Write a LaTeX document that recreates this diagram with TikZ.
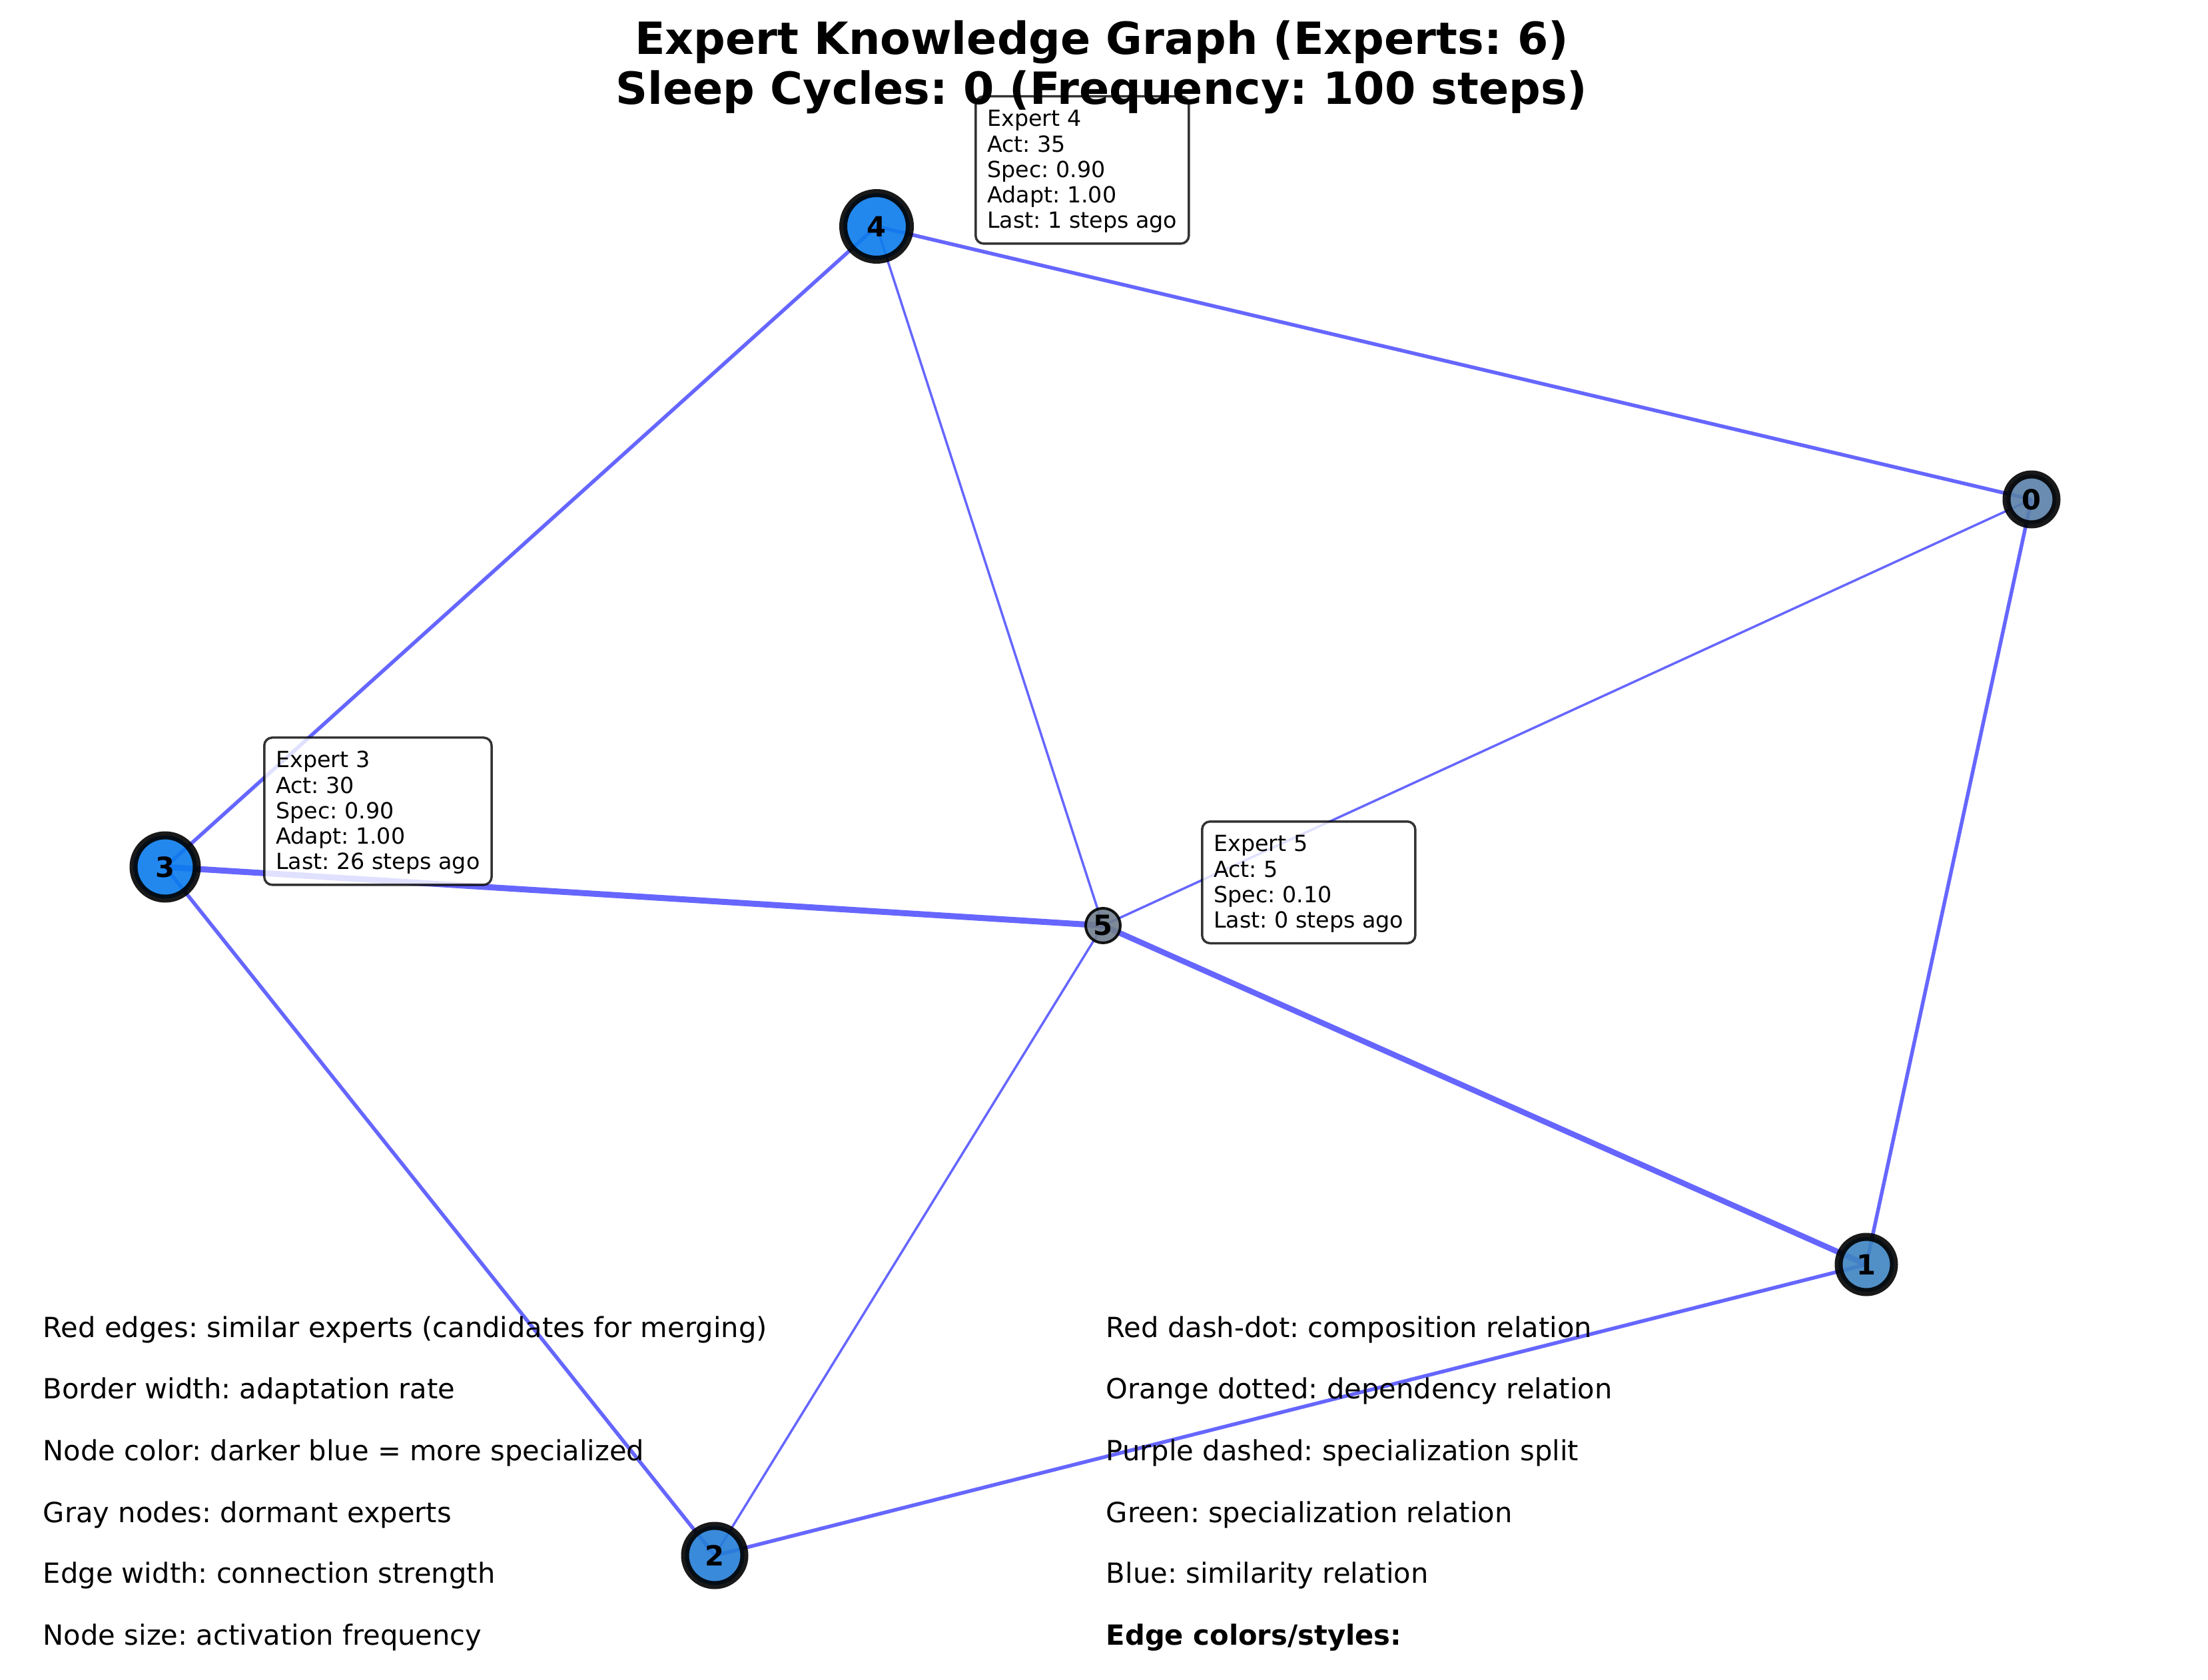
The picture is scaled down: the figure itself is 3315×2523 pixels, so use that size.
\documentclass[tikz,border=0pt]{standalone}
\usepackage{fontspec}
\setmainfont{DejaVu Sans}
\frenchspacing
\newlength\pxu
\setlength\pxu{0.24pt}
\definecolor{czero}{RGB}{89,128,168}
\definecolor{cone}{RGB}{63,132,194}
\definecolor{ctwo}{RGB}{36,126,214}
\definecolor{cthree}{RGB}{11,124,237}
\definecolor{cfour}{RGB}{12,124,236}
\definecolor{cfive}{RGB}{113,126,140}
\pgfdeclarelayer{edgelayer}
\pgfsetlayers{edgelayer,main}
\begin{document}
\begin{tikzpicture}[x=0.24pt,y=-0.24pt,
  expert/.style={circle, inner sep=0pt, draw=black, draw opacity=0.9, fill opacity=0.9, text opacity=1,
    font=\fontsize{10}{12}\selectfont\bfseries, line width=12\pxu},
  link/.style={draw=blue, draw opacity=0.6, line cap=butt},
  tip/.style={draw=black, draw opacity=0.8, fill=white, fill opacity=0.8, text opacity=1,
    rounded corners=12\pxu, line width=3.5\pxu, inner xsep=17.5\pxu, inner ysep=16\pxu,
    align=left, anchor=north west, font=\fontsize{8}{9.19}\selectfont},
  legend/.style={anchor=base west, inner sep=0pt, font=\fontsize{10}{12}\selectfont},
  titletext/.style={anchor=base, inner sep=0pt, font=\fontsize{16}{19}\selectfont\bfseries}]
\useasboundingbox (0,0) rectangle (3315,2523);

% expert nodes
\node[expert, fill=czero,  minimum size=75\pxu] (n0) at (3050,750)  {0};
\node[expert, fill=cone,   minimum size=83\pxu] (n1) at (2802,1899) {1};
\node[expert, fill=ctwo,   minimum size=89\pxu] (n2) at (1073,2336) {2};
\node[expert, fill=cthree, minimum size=95\pxu] (n3) at (248,1302)  {3};
\node[expert, fill=cfour,  minimum size=100\pxu] (n4) at (1316,340) {4};
\node[expert, fill=cfive,  minimum size=52\pxu, line width=4\pxu] (n5) at (1656,1390) {5};

% background and edges (under the nodes)
\begin{pgfonlayer}{edgelayer}
\fill[white] (0,0) rectangle (3315,2523);
\draw[link, line width=5.5\pxu] (n4.center) -- (n0.center);
\draw[link, line width=5.5\pxu] (n4.center) -- (n3.center);
\draw[link, line width=3.5\pxu] (n4.center) -- (n5.center);
\draw[link, line width=3.5\pxu] (n0.center) -- (n5.center);
\draw[link, line width=5.5\pxu] (n0.center) -- (n1.center);
\draw[link, line width=9\pxu]   (n3.center) -- (n5.center);
\draw[link, line width=8.5\pxu] (n5.center) -- (n1.center);
\draw[link, line width=5.5\pxu] (n3.center) -- (n2.center);
\draw[link, line width=3.5\pxu] (n5.center) -- (n2.center);
\draw[link, line width=5.5\pxu] (n2.center) -- (n1.center);
\end{pgfonlayer}

% info boxes
\node[tip] (tip4) at (1463,143) {\rule{0pt}{29\pxu}Expert 4\\Act: 35\\Spec: 0.90\\Adapt: 1.00\\Last: 1 steps ago};
\node[tip] (tip3) at (395,1106) {\rule{0pt}{29\pxu}Expert 3\\Act: 30\\Spec: 0.90\\Adapt: 1.00\\Last: 26 steps ago};
\node[tip] (tip5) at (1803,1232) {\rule{0pt}{29\pxu}Expert 5\\Act: 5\\Spec: 0.10\\Last: 0 steps ago};

% legend, left column
\node[legend] (l1) at (64,2008) {Red edges: similar experts (candidates for merging)};
\node[legend] (l2) at (64,2100) {Border width: adaptation rate};
\node[legend] (l3) at (64,2193) {Node color: darker blue = more specialized};
\node[legend] (l4) at (64,2286) {Gray nodes: dormant experts};
\node[legend] (l5) at (64,2377) {Edge width: connection strength};
\node[legend] (l6) at (64,2470) {Node size: activation frequency};

% legend, right column
\node[legend] (r1) at (1660,2008) {Red dash-dot: composition relation};
\node[legend] (r2) at (1660,2100) {Orange dotted: dependency relation};
\node[legend] (r3) at (1660,2193) {Purple dashed: specialization split};
\node[legend] (r4) at (1660,2286) {Green: specialization relation};
\node[legend] (r5) at (1660,2377) {Blue: similarity relation};
\node[legend] (r6) at (1660,2470) {\bfseries Edge colors/styles:};

% title
\node[titletext] (t1) at (1654,82)  {Expert Knowledge Graph (Experts: 6)};
\node[titletext] (t2) at (1654,157) {Sleep Cycles: 0 (Frequency: 100 steps)};
\end{tikzpicture}
\end{document}
